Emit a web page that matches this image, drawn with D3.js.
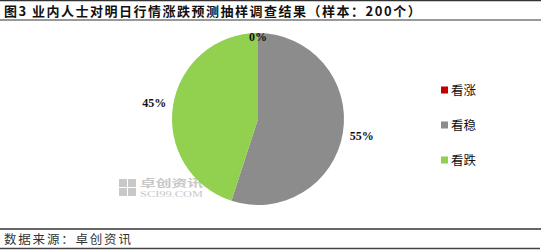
<!DOCTYPE html>
<html>
<head>
<meta charset="utf-8">
<script src="https://cdn.jsdelivr.net/npm/d3@7"></script>
<style>
  body { margin: 0; background: #fff; }
  svg { display: block; font-family: "Noto Sans CJK SC", "DejaVu Sans", sans-serif; }
</style>
</head>
<body>
<div id="chart"></div>
<script>
// chart data
const categories = ["看涨", "看稳", "看跌"];
const shares = [0, 55, 45];
const sliceColors = ["#C00000", "#8C8C8C", "#92D050"];
const titleText = "图3  业内人士对明日行情涨跌预测抽样调查结果（样本：200个）";
const sourceText = "数据来源：卓创资讯";

(function() {
    const width = 541, height = 250;
    const cx = 258, cy = 119, radius = 86;

    const svg = d3.select("#chart").append("svg")
        .attr("width", width)
        .attr("height", height);

    // frame lines
    svg.append("line").attr("x1", 0).attr("x2", width).attr("y1", 0.5).attr("y2", 0.5)
        .attr("stroke", "#333").attr("stroke-width", 1.5);
    svg.append("line").attr("x1", 0).attr("x2", width).attr("y1", 20).attr("y2", 20)
        .attr("stroke", "#777").attr("stroke-width", 1.5);
    svg.append("line").attr("x1", 0).attr("x2", width).attr("y1", 229).attr("y2", 229)
        .attr("stroke", "#333").attr("stroke-width", 1.5);
    svg.append("line").attr("x1", 0).attr("x2", width - 1).attr("y1", 248.5).attr("y2", 248.5)
        .attr("stroke", "#444").attr("stroke-width", 1.5);

    svg.append("text")
        .attr("x", 4).attr("y", 15.5)
        .attr("font-size", 13)
        .attr("letter-spacing", 1.5)
        .attr("fill", "#111")
        .attr("font-weight", "bold")
        .text(titleText);

    svg.append("text")
        .attr("x", 4).attr("y", 244)
        .attr("font-size", 12.5)
        .attr("letter-spacing", 1.8)
        .attr("fill", "#333")
        .text(sourceText);

    // watermark
    const wm = svg.append("g").attr("fill", "#c8c8c8");
    [[119, 179], [128, 179], [119, 188], [128, 188]].forEach(p => {
        wm.append("rect").attr("x", p[0]).attr("y", p[1]).attr("width", 8).attr("height", 8);
    });
    wm.append("text").attr("x", 140).attr("y", 186.5).attr("font-size", 10.5)
        .attr("textLength", 63).attr("lengthAdjust", "spacingAndGlyphs")
        .attr("font-weight", "bold").text("卓创资讯");
    wm.append("text").attr("x", 140).attr("y", 197).attr("font-size", 8.5)
        .attr("textLength", 63).attr("lengthAdjust", "spacingAndGlyphs")
        .attr("font-family", "Liberation Serif, serif").text("SCI99.COM");

    const data = categories.map((c, i) => ({ name: c, value: shares[i], color: sliceColors[i] }));

    const pie = d3.pie().sort(null).value(d => d.value);
    const arc = d3.arc().innerRadius(0).outerRadius(radius);
    const arcs = pie(data);

    const g = svg.append("g").attr("transform", "translate(" + cx + "," + cy + ")");

    g.selectAll("path")
        .data(arcs)
        .join("path")
        .attr("d", arc)
        .attr("fill", d => d.data.color);

    // percentage labels
    g.selectAll("text.lbl")
        .data(arcs)
        .join("text")
        .attr("class", "lbl")
        .attr("transform", d => {
            const r = d.data.value === 0 ? radius - 4 : radius + 19;
            const a = (d.startAngle + d.endAngle) / 2;
            return "translate(" + (Math.sin(a) * r) + "," + (-Math.cos(a) * r) + ")";
        })
        .attr("text-anchor", "middle")
        .attr("dy", "0.35em")
        .attr("font-family", "Liberation Serif, serif")
        .attr("font-weight", "bold")
        .attr("font-size", 12)
        .attr("fill", "#111")
        .text(d => d.data.value + "%");

    // legend
    const legend = svg.append("g").attr("transform", "translate(441,0)");
    const ly = d3.scalePoint().domain(categories).range([90, 160]);
    const item = legend.selectAll("g")
        .data(data)
        .join("g")
        .attr("transform", d => "translate(0," + ly(d.name) + ")");
    item.append("rect")
        .attr("x", 0).attr("y", -3.5)
        .attr("width", 7).attr("height", 7)
        .attr("fill", d => d.color);
    item.append("text")
        .attr("x", 10).attr("dy", "0.38em")
        .attr("font-size", 12.5)
        .attr("fill", "#111")
        .text(d => d.name);
})();
</script>
</body>
</html>
